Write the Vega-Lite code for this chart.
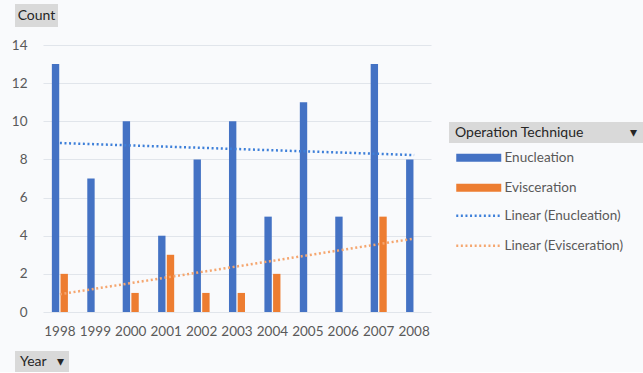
{
  "$schema": "https://vega.github.io/schema/vega-lite/v6.json",
  "background": "#f9fafc",
  "padding": {"left": 11, "top": 4, "right": 0, "bottom": 0},
  "datasets": {
    "counts": [
      {"year": 1998, "technique": "Enucleation", "count": 13},
      {"year": 1998, "technique": "Evisceration", "count": 2},
      {"year": 1999, "technique": "Enucleation", "count": 7},
      {"year": 1999, "technique": "Evisceration", "count": 0},
      {"year": 2000, "technique": "Enucleation", "count": 10},
      {"year": 2000, "technique": "Evisceration", "count": 1},
      {"year": 2001, "technique": "Enucleation", "count": 4},
      {"year": 2001, "technique": "Evisceration", "count": 3},
      {"year": 2002, "technique": "Enucleation", "count": 8},
      {"year": 2002, "technique": "Evisceration", "count": 1},
      {"year": 2003, "technique": "Enucleation", "count": 10},
      {"year": 2003, "technique": "Evisceration", "count": 1},
      {"year": 2004, "technique": "Enucleation", "count": 5},
      {"year": 2004, "technique": "Evisceration", "count": 2},
      {"year": 2005, "technique": "Enucleation", "count": 11},
      {"year": 2005, "technique": "Evisceration", "count": 0},
      {"year": 2006, "technique": "Enucleation", "count": 5},
      {"year": 2006, "technique": "Evisceration", "count": 0},
      {"year": 2007, "technique": "Enucleation", "count": 13},
      {"year": 2007, "technique": "Evisceration", "count": 5},
      {"year": 2008, "technique": "Enucleation", "count": 8},
      {"year": 2008, "technique": "Evisceration", "count": 0}
    ],
    "trend": [
      {"year": 1998, "series": "Linear (Enucleation)", "count": 8.86},
      {"year": 2008, "series": "Linear (Enucleation)", "count": 8.23},
      {"year": 1998, "series": "Linear (Evisceration)", "count": 0.93},
      {"year": 2008, "series": "Linear (Evisceration)", "count": 3.85}
    ]
  },
  "spacing": 11,
  "vconcat": [
    {
      "width": 43,
      "height": 23,
      "view": {"fill": "#d9d9d9", "stroke": null},
      "data": {"values": [{"label": "Count"}]},
      "mark": {"type": "text", "fontSize": 14, "color": "#262626", "font": "Lato"},
      "encoding": {"text": {"field": "label"}}
    },
    {
      "spacing": 18,
      "bounds": "flush",
      "hconcat": [
        {
          "width": 10,
          "height": 295,
          "data": {"values": [{"label": ""}]},
          "mark": {"type": "text"},
          "encoding": {"text": {"field": "label"}}
        },
        {
          "width": 388,
          "height": 267,
          "encoding": {
            "x": {
              "field": "year",
              "type": "ordinal",
              "bandPosition": 0.5,
              "scale": {"paddingInner": 0.547, "paddingOuter": 0.25},
              "axis": {"labelAngle": 0, "labelPadding": 12, "grid": false, "title": null}
            },
            "y": {
              "field": "count",
              "type": "quantitative",
              "scale": {"domain": [0, 14], "nice": false},
              "axis": {"values": [0, 2, 4, 6, 8, 10, 12, 14], "grid": true, "gridColor": "#e1e5eb", "labelPadding": 16, "labelOverlap": false, "title": null}
            }
          },
          "layer": [
            {
              "data": {"name": "counts"},
              "mark": {"type": "bar"},
              "encoding": {
                "xOffset": {"field": "technique", "type": "nominal", "scale": {"paddingInner": 0.15}},
                "fill": {
                  "field": "technique",
                  "type": "nominal",
                  "scale": {"domain": ["Enucleation", "Evisceration"], "range": ["#4472c4", "#ed7d31"]},
                  "legend": {
                    "orient": "none",
                    "legendX": 457,
                    "legendY": 147,
                    "title": null,
                    "padding": 0,
                    "symbolType": "M-4.5,-0.8H4.5V0.8H-4.5Z",
                    "symbolSize": 100,
                    "symbolStrokeWidth": 0,
                    "labelOffset": 19,
                    "rowPadding": 15,
                    "labelFontSize": 13.5,
                    "labelColor": "#595959",
                    "labelFont": "Lato"
                  }
                }
              }
            },
            {
              "data": {"name": "trend"},
              "mark": {"type": "line", "strokeWidth": 2.5, "strokeDash": [2, 2.6]},
              "encoding": {
                "stroke": {
                  "field": "series",
                  "type": "nominal",
                  "scale": {"domain": ["Linear (Enucleation)", "Linear (Evisceration)"], "range": ["#3d7fd9", "#f5a66f"]},
                  "legend": {
                    "orient": "none",
                    "legendX": 457,
                    "legendY": 205,
                    "title": null,
                    "padding": 0,
                    "symbolType": "M-4.5,0H4.5",
                    "symbolSize": 100,
                    "symbolStrokeWidth": 2.5,
                    "symbolDash": [2, 2.6],
                    "symbolFillColor": "transparent",
                    "labelOffset": 19,
                    "rowPadding": 15,
                    "labelFontSize": 13.5,
                    "labelColor": "#595959",
                    "labelFont": "Lato"
                  }
                }
              }
            }
          ]
        },
        {
          "spacing": 0,
          "bounds": "flush",
          "vconcat": [
            {
              "width": 1,
              "height": 77,
              "data": {"values": [{"label": ""}]},
              "mark": {"type": "text"},
              "encoding": {"text": {"field": "label"}}
            },
            {
              "width": 194,
              "height": 21,
              "view": {"fill": "#d9d9d9", "stroke": null},
              "data": {"values": [{"label": "Operation Technique\u00a0\u00a0\u00a0\u00a0\u00a0\u00a0\u00a0\u00a0\u00a0\u00a0\u00a0\u00a0\u00a0▾"}]},
              "mark": {"type": "text", "fontSize": 14, "color": "#262626", "font": "Lato"},
              "encoding": {"text": {"field": "label"}}
            }
          ]
        }
      ]
    },
    {
      "width": 54,
      "height": 21,
      "view": {"fill": "#d9d9d9", "stroke": null},
      "data": {"values": [{"label": "Year\u00a0\u00a0\u00a0▾"}]},
      "mark": {"type": "text", "fontSize": 14, "color": "#262626", "font": "Lato"},
      "encoding": {"text": {"field": "label"}}
    }
  ],
  "config": {
    "font": "Lato",
    "view": {"stroke": null},
    "axis": {"labelFont": "Lato", "labelColor": "#595959", "labelFontSize": 13.5, "ticks": false, "domain": false}
  }
}
